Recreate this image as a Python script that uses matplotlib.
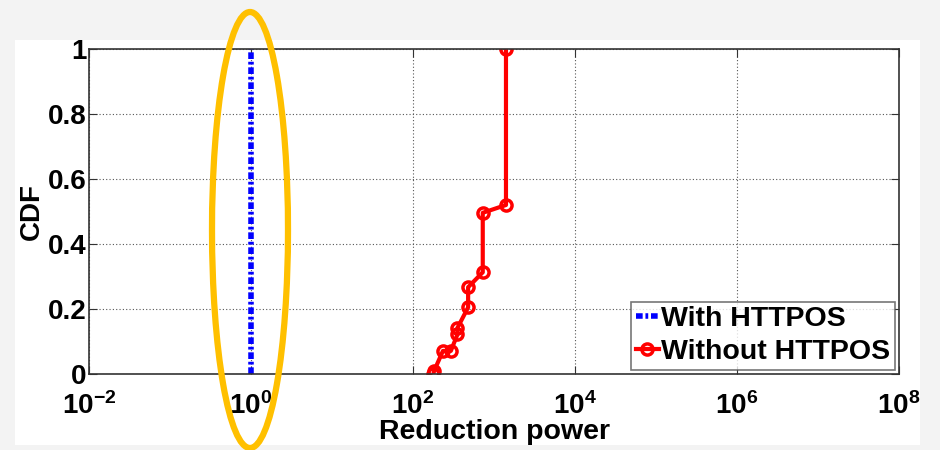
import numpy as np
import matplotlib.pyplot as plt
from matplotlib.patches import Ellipse, Rectangle

plt.rcParams['font.family'] = ['Liberation Sans', 'DejaVu Sans']
plt.rcParams['font.weight'] = 'bold'
plt.rcParams['mathtext.fontset'] = 'custom'
plt.rcParams['mathtext.rm'] = 'Liberation Sans:bold'
plt.rcParams['mathtext.bf'] = 'Liberation Sans:bold'
plt.rcParams['mathtext.default'] = 'bf'

# data
with_x = [1, 1]
with_cdf = [0.0, 1.0]

without_x = [179, 181, 234, 293, 354, 354, 479, 479, 726, 726, 1405, 1405]
without_cdf = [0.0, 0.008, 0.071, 0.071, 0.122, 0.142, 0.205, 0.267, 0.313, 0.496, 0.52, 1.0]

xticks = [1e-2, 1e0, 1e2, 1e4, 1e6, 1e8]
xtick_labels = [r'$10^{-2}$', r'$10^{0}$', r'$10^{2}$', r'$10^{4}$', r'$10^{6}$', r'$10^{8}$']
yticks = [0, 0.2, 0.4, 0.6, 0.8, 1]
ytick_labels = ['0', '0.2', '0.4', '0.6', '0.8', '1']

fig = plt.figure(figsize=(9.4, 4.5), dpi=100, facecolor='#f3f3f3')
fig.patches.append(Rectangle((15 / 940, 5 / 450), 905 / 940, 405 / 450,
                             transform=fig.transFigure, facecolor='white',
                             edgecolor='none', zorder=-5))

ax = fig.add_axes([0.0947, 0.1689, 0.8617, 0.7222])
ax.set_xscale('log')

ax.plot(with_x, with_cdf, color='blue', linestyle=(0, (1.2, 0.5, 0.5, 0.5)),
        linewidth=4, label='With HTTPOS')
ax.plot(without_x, without_cdf, color='red', linewidth=3, marker='o',
        markersize=8, markerfacecolor='none', markeredgewidth=2.5,
        label='Without HTTPOS')

ax.set_xlim(1e-2, 1e8)
ax.set_ylim(0, 1)
ax.set_xticks(xticks)
ax.set_xticklabels(xtick_labels)
ax.minorticks_off()
ax.set_yticks(yticks)
ax.set_yticklabels(ytick_labels)
ax.tick_params(labelsize=20, direction='in', length=6, top=True, right=True,
               color='#333333', pad=2)
ax.tick_params(axis='x', pad=13)
ax.grid(True, linestyle=(0, (1, 2)), color='#555555', linewidth=0.8)
for s in ax.spines.values():
    s.set_color('#333333')
    s.set_linewidth(1.2)

ax.set_xlabel('Reduction power', fontsize=20.5, fontweight='bold', labelpad=-0.5)
ax.set_ylabel('CDF', fontsize=20, fontweight='bold', labelpad=2)

leg = ax.legend(loc='lower right', fontsize=20.5, frameon=True, fancybox=False,
                borderpad=0.15, labelspacing=0.25, handlelength=0.8,
                handletextpad=0.1, borderaxespad=0.15)
leg.get_frame().set_edgecolor('#555555')
leg.get_frame().set_linewidth(1.2)

fig.patches.append(Ellipse((250 / 940, 1 - 230 / 450), 76 / 940, 436 / 450,
                           transform=fig.transFigure, fill=False,
                           edgecolor='#FFC000', linewidth=4.5, zorder=10))

fig.savefig('out.png', dpi=100, facecolor=fig.get_facecolor())
